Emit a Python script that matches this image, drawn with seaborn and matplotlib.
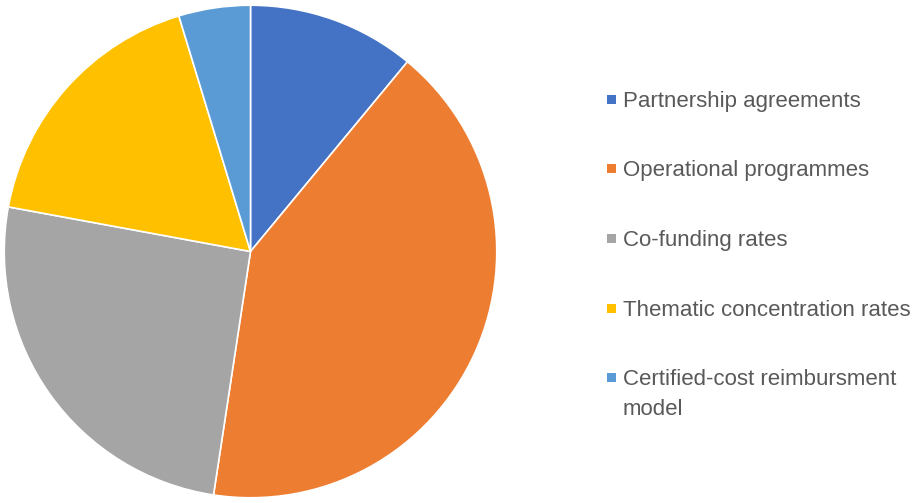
import matplotlib
matplotlib.use("Agg")
import matplotlib.pyplot as plt
from matplotlib.patches import Rectangle
import seaborn as sns

sns.set_theme(style="white")
plt.rcParams['font.family'] = ['Liberation Sans', 'DejaVu Sans']

# shares (percent)
categories = ["Partnership agreements", "Operational programmes", "Co-funding rates",
              "Thematic concentration rates", "Certified-cost reimbursment\nmodel"]
values = [11.0, 41.4, 25.5, 17.4, 4.7]
colors = ["#4472C4", "#ED7D31", "#A5A5A5", "#FFC000", "#5B9BD5"]

W, H = 916, 503
fig = plt.figure(figsize=(W / 100, H / 100), dpi=100)
ax = fig.add_axes([3.5 / W, 4.5 / H, 494 / W, 494 / H])
ax.pie(values, colors=colors, startangle=90, counterclock=False,
       wedgeprops=dict(edgecolor="white", linewidth=1.2))
ax.set_xlim(-1.003, 1.003)
ax.set_ylim(-1.003, 1.003)
ax.set_aspect("equal")

# legend drawn by hand so the wrapped label keeps its marker on the first line
for i, (label, color) in enumerate(zip(categories, colors)):
    yc = 99 + 69.7 * i
    fig.add_artist(Rectangle((607 / W, 1 - (yc + 4.5) / H), 9 / W, 9 / H,
                             transform=fig.transFigure, facecolor=color,
                             edgecolor="none"))
    for j, line in enumerate(label.split("\n")):
        fig.text(623 / W, 1 - (yc + 7.5 + 30 * j) / H, line, fontsize=16,
                 color="#595959", va="baseline", ha="left")

fig.savefig("out.png", dpi=100, facecolor="white")
